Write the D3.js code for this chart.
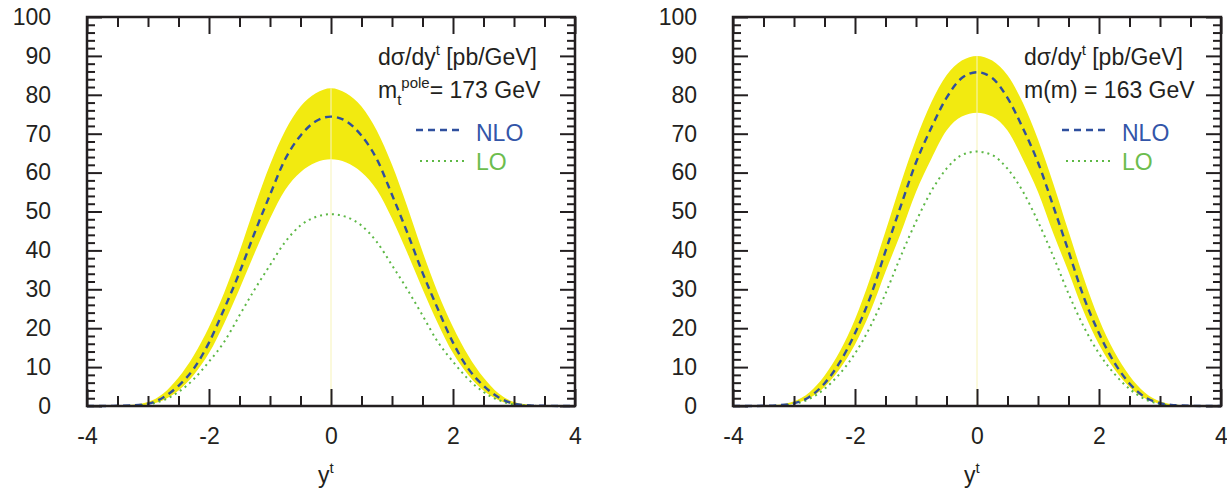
<!DOCTYPE html>
<html>
<head>
<meta charset="utf-8">
<script src="https://cdn.jsdelivr.net/npm/d3@7/dist/d3.min.js"></script>
<style>
  html, body { margin: 0; padding: 0; background: #fff; }
  svg { display: block; }
  text { font-family: "Liberation Sans", Arial, Helvetica, sans-serif; fill: #231f20; }
</style>
</head>
<body>
<svg id="chart" width="1227" height="491"></svg>
<script>
// Top-quark rapidity y^t grid
const rapidity = [-4, -3.75, -3.5, -3.25, -3, -2.75, -2.5, -2.25, -2, -1.75, -1.5, -1.25, -1, -0.75, -0.5, -0.25,
  0, 0.25, 0.5, 0.75, 1, 1.25, 1.5, 1.75, 2, 2.25, 2.5, 2.75, 3, 3.25, 3.5, 3.75, 4];

// Pole-mass scheme, m_t = 173 GeV  (dσ/dy^t in pb/GeV)
const poleNLO   = [0, 0, 0.05, 0.15, 0.6, 2.2, 5.2, 9.6, 16.3, 25.0, 34.3, 44.6, 54.3, 63.5, 69.5, 73.2, 74.4,
  73.2, 69.5, 63.5, 54.3, 44.6, 34.3, 25.0, 16.3, 9.6, 5.2, 2.2, 0.6, 0.15, 0.05, 0, 0];
const poleUpper = [0, 0, 0.1, 0.3, 1.0, 3.2, 7.3, 13.0, 20.3, 29.2, 39.7, 51.3, 62.0, 70.8, 77.0, 80.4, 81.7,
  80.4, 77.0, 70.8, 62.0, 51.3, 39.7, 29.2, 20.3, 13.0, 7.3, 3.2, 1.0, 0.3, 0.1, 0, 0];
const poleLower = [0, 0, 0, 0.1, 0.4, 1.5, 4.0, 8.0, 13.6, 21.3, 30.1, 39.4, 48.2, 55.6, 60.1, 62.6, 63.4,
  62.6, 60.1, 55.6, 48.2, 39.4, 30.1, 21.3, 13.6, 8.0, 4.0, 1.5, 0.4, 0.1, 0, 0, 0];
const poleLO    = [0, 0, 0, 0.1, 0.4, 1.5, 3.6, 6.9, 11.4, 16.5, 23.3, 30.0, 36.2, 42.2, 46.4, 48.6, 49.3,
  48.6, 46.4, 42.2, 36.2, 30.0, 23.3, 16.5, 11.4, 6.9, 3.6, 1.5, 0.4, 0.1, 0, 0, 0];

// MSbar scheme, m(m) = 163 GeV
const msbarNLO   = [0, 0, 0.05, 0.2, 0.7, 2.3, 5.8, 11.2, 18.7, 28.0, 39.8, 51.4, 62.6, 71.5, 79.2, 84.3, 85.8,
  84.3, 79.2, 71.5, 62.6, 51.4, 39.8, 28.0, 18.7, 11.2, 5.8, 2.3, 0.7, 0.2, 0.05, 0, 0];
const msbarUpper = [0, 0, 0.1, 0.3, 1.2, 3.5, 7.8, 14.0, 22.3, 32.9, 44.9, 57.2, 68.5, 78.0, 85.0, 88.8, 90.0,
  88.8, 85.0, 78.0, 68.5, 57.2, 44.9, 32.9, 22.3, 14.0, 7.8, 3.5, 1.2, 0.3, 0.1, 0, 0];
const msbarLower = [0, 0, 0, 0.1, 0.6, 2.0, 4.9, 9.5, 15.8, 24.2, 34.5, 44.4, 55.0, 63.5, 70.8, 74.4, 75.4,
  74.4, 70.8, 63.5, 55.0, 44.4, 34.5, 24.2, 15.8, 9.5, 4.9, 2.0, 0.6, 0.1, 0, 0, 0];
const msbarLO    = [0, 0, 0, 0.1, 0.5, 1.8, 4.4, 8.3, 13.5, 20.4, 28.9, 38.5, 47.4, 55.2, 61.0, 64.5, 65.4,
  64.5, 61.0, 55.2, 47.4, 38.5, 28.9, 20.4, 13.5, 8.3, 4.4, 1.8, 0.5, 0.1, 0, 0, 0];

// Axis ticks and their labels
const xMajor = [-4, -2, 0, 2, 4];
const xLabels = ["-4", "-2", "0", "2", "4"];
const xMinor = [-3.5, -3, -2.5, -1.5, -1, -0.5, 0.5, 1, 1.5, 2.5, 3, 3.5];
const yMajor = [0, 10, 20, 30, 40, 50, 60, 70, 80, 90, 100];
const yLabels = ["0", "10", "20", "30", "40", "50", "60", "70", "80", "90", "100"];
const yMinor = [2, 4, 6, 8, 12, 14, 16, 18, 22, 24, 26, 28, 32, 34, 36, 38, 42, 44, 46, 48,
  52, 54, 56, 58, 62, 64, 66, 68, 72, 74, 76, 78, 82, 84, 86, 88, 92, 94, 96, 98];

const legendNLO = "NLO";
const legendLO = "LO";
const titleLine = "dσ/dy";

const C = {
  band: "#f2ea10",
  nlo: "#2f4f9e",
  lo: "#5db845",
  nloText: "#3355a8",
  loText: "#6cbd4e",
  axis: "#231f20"
};

const svg = d3.select("#chart");

function panel(left, nlo, upper, lower, lo, massLabel) {
  const W = 488, top = 17, bottom = 406;
  const x = d3.scaleLinear().domain([-4, 4]).range([left, left + W]);
  const y = d3.scaleLinear().domain([0, 100]).range([bottom, top]);
  const g = svg.append("g");

  const rows = rapidity.map((r, i) => ({ r, nlo: nlo[i], up: upper[i], lw: lower[i], lo: lo[i] }));

  // uncertainty band
  g.append("path").datum(rows)
    .attr("fill", C.band)
    .attr("d", d3.area().curve(d3.curveMonotoneX)
      .x(d => x(d.r)).y0(d => y(d.lw)).y1(d => y(d.up)));

  // faint seam at y^t = 0 where the two halves of the band meet
  const mid = rows[rapidity.indexOf(0)];
  g.append("line")
    .attr("x1", x(0)).attr("x2", x(0)).attr("y1", y(0)).attr("y2", y(mid.lw))
    .attr("stroke", "#f7f3b8").attr("stroke-width", 1);
  g.append("line")
    .attr("x1", x(0)).attr("x2", x(0)).attr("y1", y(mid.lw)).attr("y2", y(mid.up))
    .attr("stroke", "#f7f4c4").attr("stroke-width", 1);

  const line = key => d3.line().curve(d3.curveMonotoneX).x(d => x(d.r)).y(d => y(d[key]));

  g.append("path").datum(rows)
    .attr("fill", "none").attr("stroke", C.lo).attr("stroke-width", 2)
    .attr("stroke-dasharray", "2,4").attr("d", line("lo"));
  g.append("path").datum(rows)
    .attr("fill", "none").attr("stroke", C.nlo).attr("stroke-width", 2.4)
    .attr("stroke-dasharray", "7,5").attr("d", line("nlo"));

  // axes with inward ticks on all four sides
  const styleAxis = sel => {
    sel.select(".domain").remove();
    sel.selectAll(".tick line").attr("stroke", C.axis).attr("stroke-width", 2);
    sel.selectAll(".tick text").style("font-size", "23px")
      .style("font-family", "'Liberation Sans', Arial, sans-serif").attr("fill", C.axis);
  };

  g.append("g").attr("transform", `translate(0,${bottom})`)
    .call(d3.axisBottom(x).tickValues(xMajor).tickSize(-17).tickPadding(22)
      .tickFormat((d, i) => xLabels[i]))
    .call(styleAxis);
  g.append("g").attr("transform", `translate(0,${bottom})`)
    .call(d3.axisBottom(x).tickValues(xMinor).tickSize(-10).tickFormat(""))
    .call(styleAxis);
  g.append("g").attr("transform", `translate(0,${top})`)
    .call(d3.axisTop(x).tickValues(xMajor).tickSize(-17).tickFormat(""))
    .call(styleAxis);
  g.append("g").attr("transform", `translate(0,${top})`)
    .call(d3.axisTop(x).tickValues(xMinor).tickSize(-10).tickFormat(""))
    .call(styleAxis);

  g.append("g").attr("transform", `translate(${left},0)`)
    .call(d3.axisLeft(y).tickValues(yMajor).tickSize(-15).tickPadding(36)
      .tickFormat((d, i) => yLabels[i]))
    .call(styleAxis);
  g.append("g").attr("transform", `translate(${left},0)`)
    .call(d3.axisLeft(y).tickValues(yMinor).tickSize(-8).tickFormat(""))
    .call(styleAxis);
  g.append("g").attr("transform", `translate(${left + W},0)`)
    .call(d3.axisRight(y).tickValues(yMajor).tickSize(-15).tickFormat(""))
    .call(styleAxis);
  g.append("g").attr("transform", `translate(${left + W},0)`)
    .call(d3.axisRight(y).tickValues(yMinor).tickSize(-8).tickFormat(""))
    .call(styleAxis);

  // frame
  g.append("rect")
    .attr("x", left).attr("y", top).attr("width", W).attr("height", bottom - top)
    .attr("fill", "none").attr("stroke", C.axis).attr("stroke-width", 2.5);

  // x-axis title y^t
  const xt = g.append("text").attr("x", x(0) - 13).attr("y", 483).style("font-size", "23px");
  xt.append("tspan").text("y");
  xt.append("tspan").attr("dy", -10).style("font-size", "15px").text("t");

  // legend block
  const lx = x(0) + 47;
  const t1 = g.append("text").attr("x", lx).attr("y", 65).style("font-size", "23px");
  t1.append("tspan").text(titleLine);
  t1.append("tspan").attr("dy", -10).style("font-size", "15px").text("t");
  t1.append("tspan").attr("dy", 10).text(" [pb/GeV]");

  const t2 = g.append("text").attr("x", lx).attr("y", 98).style("font-size", "23px");
  massLabel(t2);

  const sx0 = x(0) + 85, sx1 = x(0) + 133;
  g.append("line").attr("x1", sx0).attr("x2", sx1).attr("y1", 130).attr("y2", 130)
    .attr("stroke", C.nlo).attr("stroke-width", 2.4).attr("stroke-dasharray", "7,5");
  g.append("line").attr("x1", sx0 + 4).attr("x2", sx1).attr("y1", 161).attr("y2", 161)
    .attr("stroke", C.lo).attr("stroke-width", 2).attr("stroke-dasharray", "2,4");
  g.append("text").attr("x", x(0) + 145).attr("y", 141).style("font-size", "23px")
    .style("fill", C.nloText).text(legendNLO);
  g.append("text").attr("x", x(0) + 145).attr("y", 170).style("font-size", "23px")
    .style("fill", C.loText).text(legendLO);
}

panel(87, poleNLO, poleUpper, poleLower, poleLO, t => {
  t.append("tspan").text("m");
  t.append("tspan").attr("dy", 7).style("font-size", "15px").text("t");
  t.append("tspan").attr("dy", -17).style("font-size", "15px").text("pole");
  t.append("tspan").attr("dy", 10).text("= 173 GeV");
});

panel(733, msbarNLO, msbarUpper, msbarLower, msbarLO, t => {
  t.append("tspan").text("m(m) = 163 GeV");
});
</script>
</body>
</html>
